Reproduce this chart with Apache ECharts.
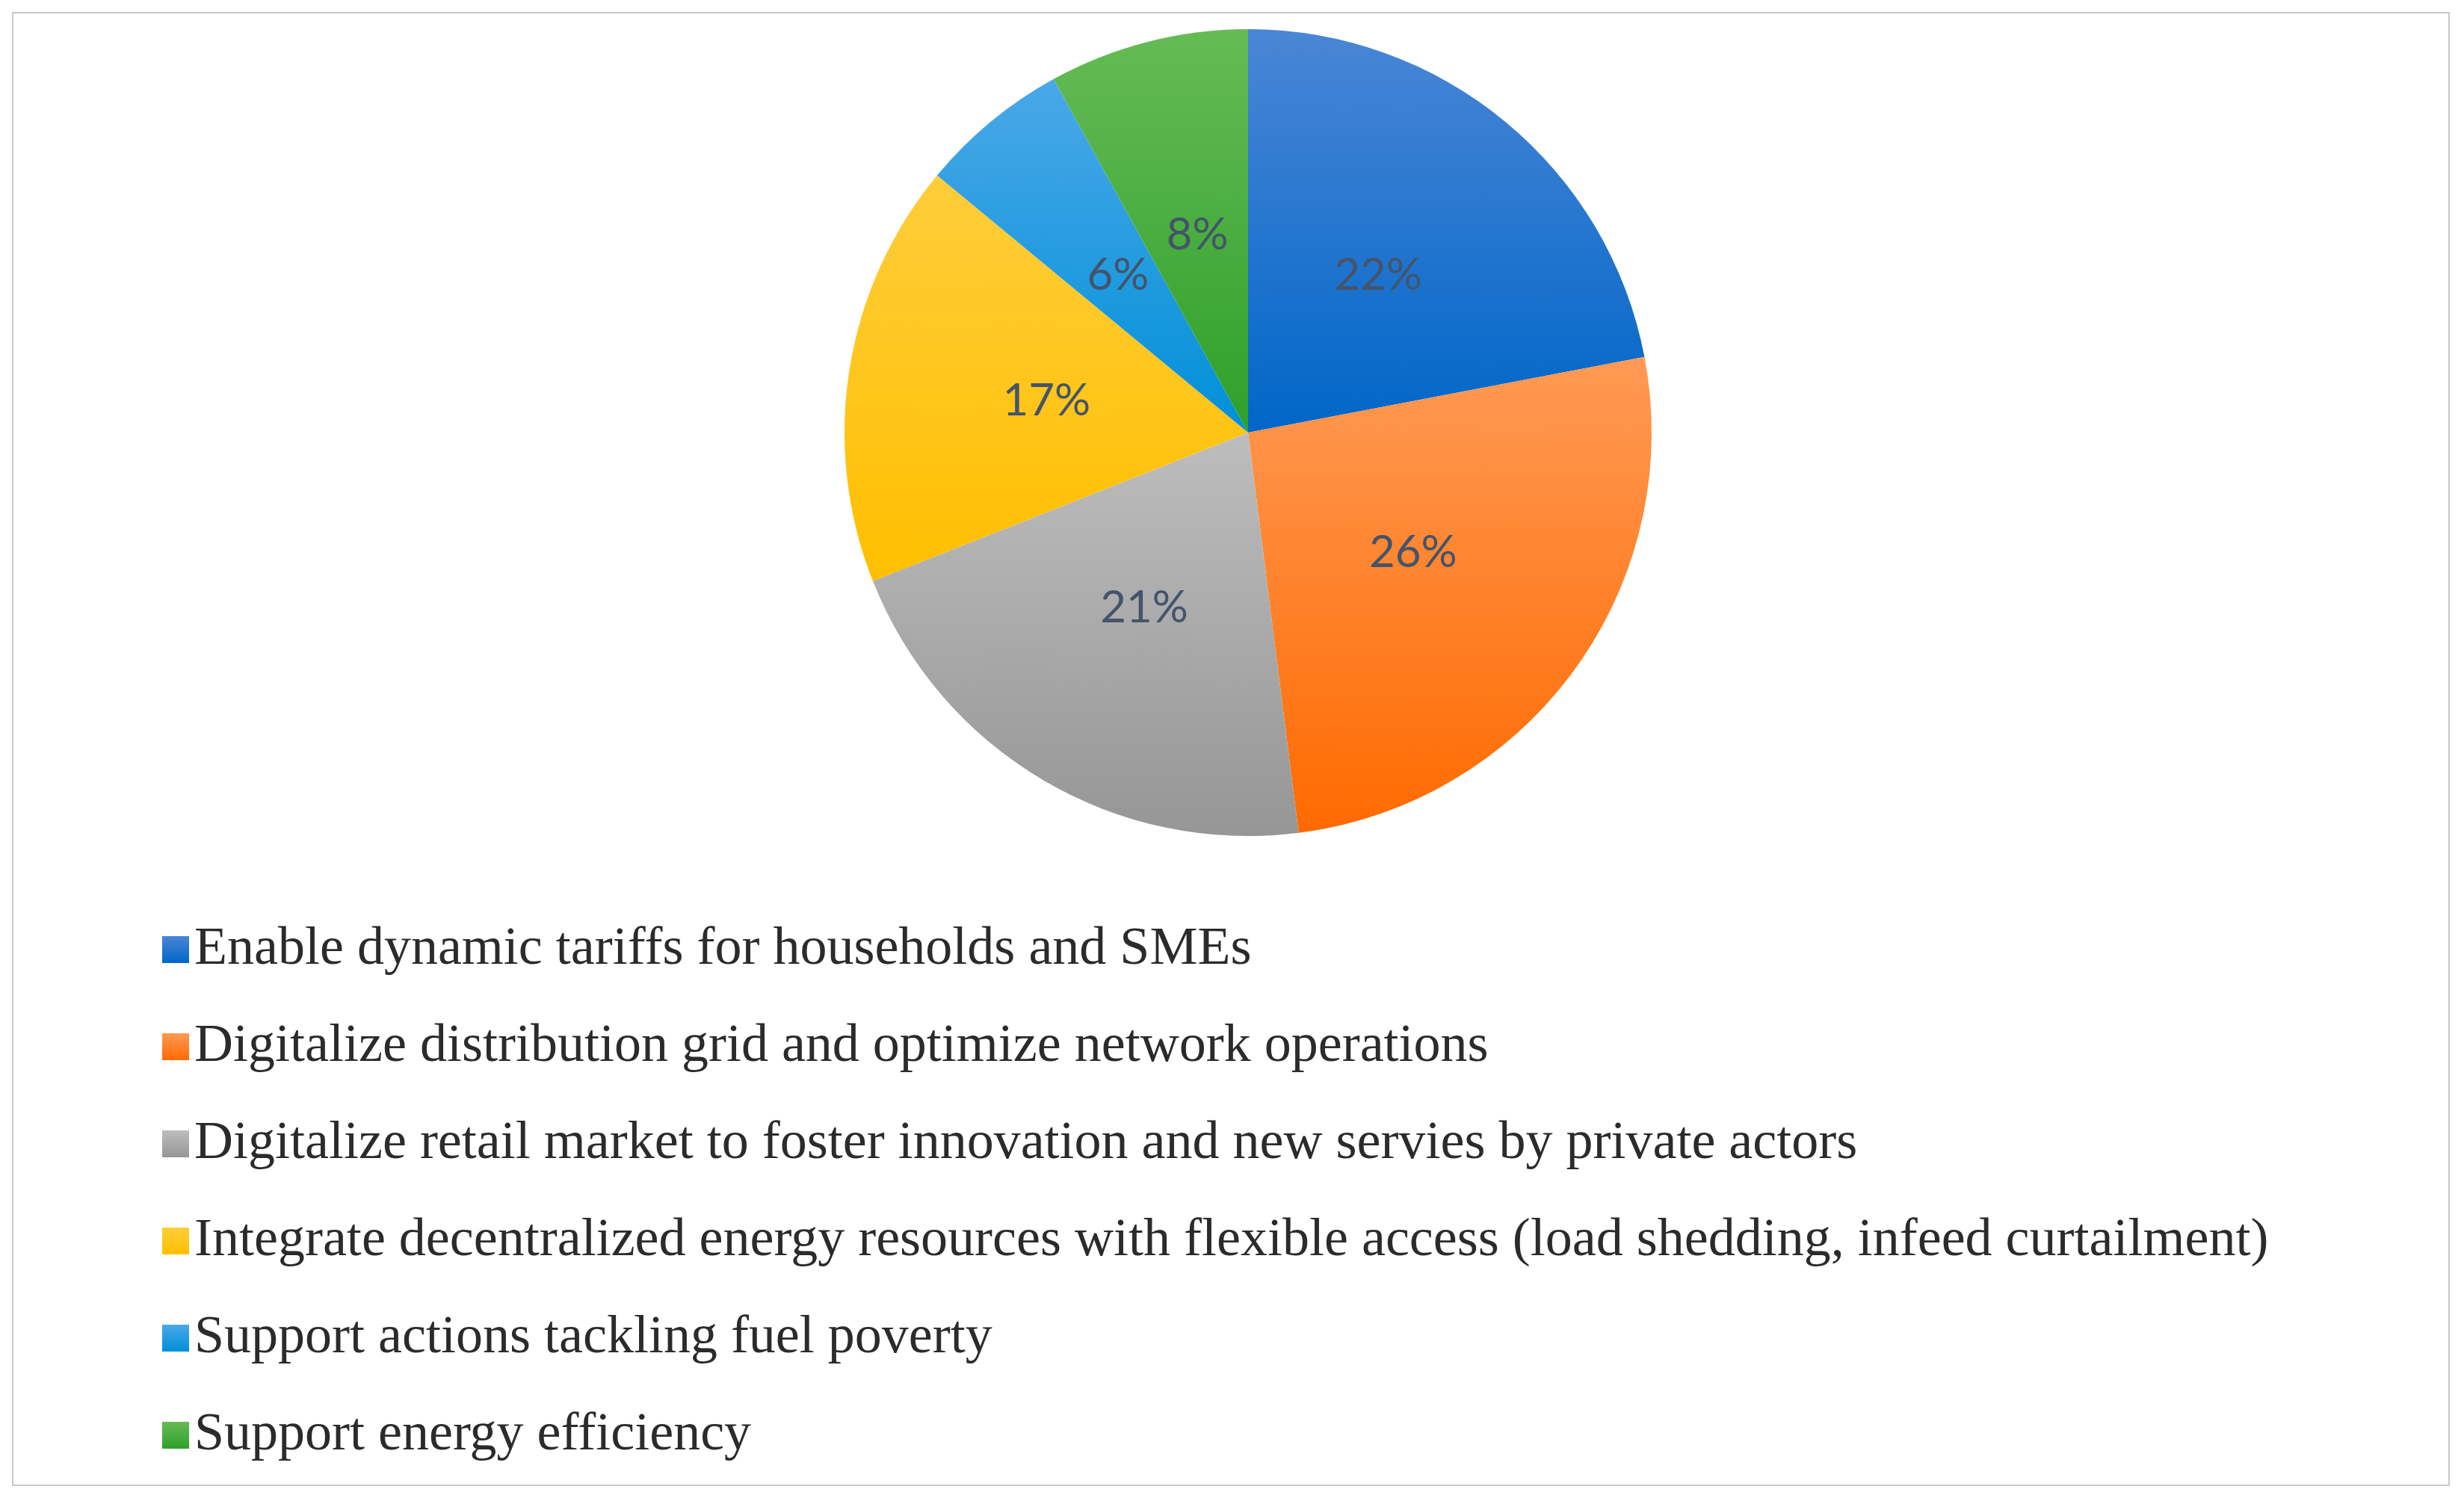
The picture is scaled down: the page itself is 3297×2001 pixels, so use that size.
<!DOCTYPE html>
<html><head><meta charset="utf-8">
<script src="https://cdn.jsdelivr.net/npm/echarts@6/dist/echarts.min.js"></script>
<style>html,body{margin:0;padding:0;background:#fff}#c{width:3297px;height:2001px}</style>
</head><body><div id="c"></div>
<script>
const categories = [
  "Enable dynamic tariffs for households and SMEs",
  "Digitalize distribution grid and optimize network operations",
  "Digitalize retail market to foster innovation and new servies by private actors",
  "Integrate decentralized energy resources with flexible access (load shedding, infeed curtailment)",
  "Support actions tackling fuel poverty",
  "Support energy efficiency"
];
const values = [22, 26, 21, 17, 6, 8];
const colors = [["#4a86d6","#0066c8"],["#ff9a55","#ff6a00"],["#bdbdbd","#969696"],["#ffcd3a","#ffbf00"],["#4aa8e8","#0090d8"],["#66bb55","#2ea02a"]];
const chart = echarts.init(document.getElementById('c'));
chart.setOption({
  animation:false,
  graphic:[{type:'rect',shape:{x:17,y:17,width:3260,height:1971},style:{fill:'none',stroke:'#c8c8c8',lineWidth:2}}],
  legend:{orient:'vertical',left:212,top:1230,height:740,itemWidth:36,itemHeight:36,itemGap:58,icon:'rect',
    textStyle:{fontFamily:'Liberation Serif',fontSize:72,color:'#2b2b2b',padding:[0,0,0,2]},
    data:categories},
  series:[{type:'pie',center:[1670,579],radius:[0,540],startAngle:90,clockwise:true,
    label:{position:'inside',formatter:'{c}%',fontFamily:'Lato',fontSize:60,color:'#44546a'},
    labelLine:{show:false},
    itemStyle:{borderWidth:0},
    data:categories.map((n,i)=>({name:n,value:values[i],
      itemStyle:{color:new echarts.graphic.LinearGradient(0,0,0,1,[{offset:0,color:colors[i][0]},{offset:1,color:colors[i][1]}])}}))
  }]
});
</script></body></html>
